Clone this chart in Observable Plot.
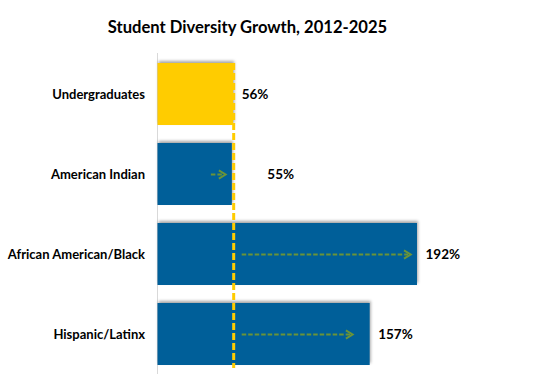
<!DOCTYPE html>
<html>
<head>
<meta charset="utf-8">
<script src="https://cdn.jsdelivr.net/npm/d3@7"></script>
<script src="https://cdn.jsdelivr.net/npm/@observablehq/plot@0.6"></script>
<style>
  html, body { margin: 0; padding: 0; background: #fff; }
  #wrap { width: 537px; height: 379px; position: relative; overflow: hidden; }
  #title { height: 45px; box-sizing: border-box; padding-top: 17px; text-align: center; padding-right: 42px;
           font: bold 16.6px Lato, "Open Sans", sans-serif; color: #000; line-height: 20px; }
  svg g[aria-label="bar"] { filter: drop-shadow(1.5px -1.5px 1.5px rgba(0,0,0,0.35)); }
</style>
</head>
<body>
<div id="wrap">
  <div id="title">Student Diversity Growth, 2012-2025</div>
  <div id="chart"></div>
</div>
<script>
const categories = ["Undergraduates", "American Indian", "African American/Black", "Hispanic/Latinx"];
const growth = [56, 55, 192, 157];
const valueLabels = ["56%", "55%", "192%", "157%"];
const benchmark = 56;
const arrowStart = [null, 39.5, 62.3, 62.3];
const arrowEnd = [null, 50, 187, 144];

const yellow = "#FFCC00";
const blue = "#005F99";
const green = "#6A9438";

const rows = categories.map((c, i) => ({category: c, value: growth[i], label: valueLabels[i]}));
const arrows = categories.map((c, i) => ({category: c, start: arrowStart[i], end: arrowEnd[i]}))
  .filter(d => d.start != null);

const chevron = {
  draw(context, size) {
    const r = Math.sqrt(size / Math.PI);
    context.moveTo(-1.6 * r, -r);
    context.lineTo(0, 0);
    context.lineTo(-1.6 * r, r);
  }
};

const plot = Plot.plot({
  width: 537,
  height: 334,
  marginLeft: 157.5,
  marginRight: 20,
  marginTop: 8,
  marginBottom: 5,
  style: {fontFamily: "Lato, 'Open Sans', sans-serif", fontSize: "12px", color: "#000", background: "#fff"},
  x: {domain: [0, 266], axis: null},
  y: {domain: categories, paddingInner: 0.23, paddingOuter: 0.12, label: null},
  marks: [
    Plot.axisY({tickSize: 0, tickPadding: 13, fontWeight: "bold", fontSize: 13, fill: "#000", label: null}),
    Plot.ruleX([0], {stroke: "#D9D9D9", strokeWidth: 1, dx: -0.5}),
    Plot.barX(rows, {y: "category", x: "value", fill: d => d.category === "Undergraduates" ? yellow : blue}),
    Plot.ruleX([benchmark], {stroke: yellow, strokeWidth: 3, strokeDasharray: "7,3", insetTop: 10, insetBottom: 6}),
    Plot.ruleY(arrows, {y: "category", x1: "start", x2: d => d.end - 1.5, stroke: green, strokeWidth: 2, strokeDasharray: "4.5,2"}),
    Plot.dot(arrows, {y: "category", x: "end", symbol: chevron, r: 4.2, stroke: green, fill: "none", strokeWidth: 2}),
    Plot.text(rows.filter(d => d.category !== "American Indian"), {y: "category", x: "value", text: "label", dx: 8, textAnchor: "start", fontWeight: "bold", fontSize: 13.5, fill: "#000"}),
    Plot.text(rows.filter(d => d.category === "American Indian"), {y: "category", x: "value", text: "label", dx: 35, textAnchor: "start", fontWeight: "bold", fontSize: 13.5, fill: "#000"})
  ]
});
document.getElementById("chart").appendChild(plot);
</script>
</body>
</html>
